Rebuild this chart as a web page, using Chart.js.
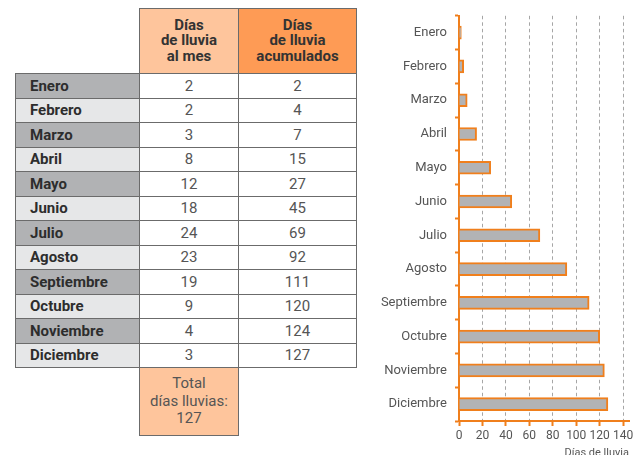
<!DOCTYPE html>
<html lang="es">
<head>
<meta charset="utf-8">
<title>Días de lluvia</title>
<script src="https://cdn.jsdelivr.net/npm/chart.js@4.4.1/dist/chart.umd.min.js"></script>
<style>
  html, body {
    margin: 0;
    padding: 0;
    width: 643px;
    height: 455px;
    overflow: hidden;
    background: #fff;
    font-family: Roboto, "Noto Sans", sans-serif;
  }
  /* tabla */
  #tabla {
    position: absolute;
    left: 15px;
    top: 8px;
    border-collapse: collapse;
    table-layout: fixed;
  }
  #tabla td, #tabla th {
    border: 1.5px solid #6b6b6b;
    padding: 0;
  }
  #tabla .vacio { border: none; background: transparent; }
  #tabla th {
    height: 64px;
    font-size: 15px;
    line-height: 15.5px;
    font-weight: 700;
    color: #333;
  }
  #tabla th.c1 { background: #fec59c; }
  #tabla th.c2 { background: #fe9b55; }
  #tabla td.mes {
    height: 23.5px;
    padding-left: 14px;
    font-size: 15px;
    font-weight: 700;
    color: #2d2d2d;
    text-align: left;
  }
  #tabla tr.impar td.mes { background: #b1b2b4; }
  #tabla tr.par td.mes { background: #e6e7e8; }
  #tabla td.num {
    text-align: center;
    font-size: 15px;
    font-weight: 400;
    color: #555;
  }
  #tabla td.total {
    height: 67px;
    background: #fec59c;
    text-align: center;
    font-size: 15px;
    line-height: 17.5px;
    font-weight: 400;
    color: #555;
  }
  /* grafico */
  #grafico {
    position: absolute;
    left: 360px;
    top: 0;
    width: 283px;
    height: 466px;
  }
</style>
</head>
<body>
<table id="tabla">
  <colgroup>
    <col style="width:124px">
    <col style="width:99px">
    <col style="width:118px">
  </colgroup>
  <tbody id="cuerpo"></tbody>
</table>
<div id="grafico"><canvas id="barras"></canvas></div>

<script>
// ====== datos ======
const meses = ['Enero', 'Febrero', 'Marzo', 'Abril', 'Mayo', 'Junio', 'Julio',
  'Agosto', 'Septiembre', 'Octubre', 'Noviembre', 'Diciembre'];
const diasMes = [2, 2, 3, 8, 12, 18, 24, 23, 19, 9, 4, 3];
const diasAcumulados = [2, 4, 7, 15, 27, 45, 69, 92, 111, 120, 124, 127];
const totalDias = 127;
const encabezados = [['Días', 'de lluvia', 'al mes'], ['Días', 'de lluvia', 'acumulados']];
const totalTexto = ['Total', 'días lluvias:'];
const ticksX = [0, 20, 40, 60, 80, 100, 120, 140];
const tituloX = 'Días de lluvia';

const naranja = '#f07f1c';

// ====== tabla ======
const cuerpo = document.getElementById('cuerpo');
let html = '<tr><th class="vacio"></th>';
html += '<th class="c1">' + encabezados[0].join('<br>') + '</th>';
html += '<th class="c2">' + encabezados[1].join('<br>') + '</th></tr>';
meses.forEach(function (m, i) {
  html += '<tr class="' + (i % 2 === 0 ? 'impar' : 'par') + '">';
  html += '<td class="mes">' + m + '</td>';
  html += '<td class="num">' + diasMes[i] + '</td>';
  html += '<td class="num">' + diasAcumulados[i] + '</td></tr>';
});
html += '<tr><td class="vacio"></td><td class="total">' + totalTexto.join('<br>') + '<br>' + totalDias + '</td><td class="vacio"></td></tr>';
cuerpo.innerHTML = html;

// ====== grafico ======
new Chart(document.getElementById('barras'), {
  type: 'bar',
  data: {
    labels: meses,
    datasets: [{
      data: diasAcumulados,
      backgroundColor: '#b2b3b5',
      borderColor: naranja,
      borderWidth: 2,
      barThickness: 13
    }]
  },
  options: {
    indexAxis: 'y',
    responsive: true,
    maintainAspectRatio: false,
    animation: false,
    layout: { padding: { top: 13, right: 14, left: 0, bottom: 0 } },
    plugins: {
      legend: { display: false },
      tooltip: { enabled: false }
    },
    scales: {
      y: {
        afterFit: function (s) { s.width = 99; },
        grid: {
          offset: true,
          drawOnChartArea: false,
          tickColor: naranja,
          tickWidth: 2,
          tickLength: 4
        },
        border: { color: naranja, width: 2 },
        ticks: {
          padding: 8,
          color: '#555',
          font: { family: 'Roboto', size: 13 }
        }
      },
      x: {
        min: 0,
        max: 145,
        afterBuildTicks: function (s) { s.ticks = ticksX.map(function (v) { return { value: v }; }); },
        afterFit: function (s) { s.height = 45; },
        grid: {
          color: '#a6a6a6',
          lineWidth: 1,
          tickColor: naranja,
          tickWidth: 2,
          tickLength: 5
        },
        border: { color: naranja, width: 2, dash: [3.5, 3] },
        ticks: {
          padding: 3,
          maxRotation: 0,
          minRotation: 0,
          autoSkip: false,
          color: '#555',
          font: { family: 'Roboto', size: 12 }
        },
        title: {
          display: true,
          text: tituloX,
          align: 'end',
          color: '#555',
          padding: { top: 0, bottom: 6 },
          font: { family: 'Roboto', size: 11 }
        }
      }
    }
  }
});
</script>
</body>
</html>
